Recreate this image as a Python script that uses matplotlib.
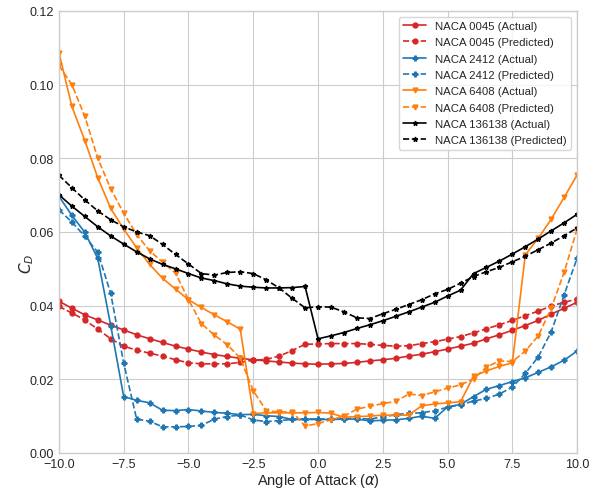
import numpy as np
import matplotlib
matplotlib.use("Agg")
import matplotlib.pyplot as plt

# Angle of attack grid (degrees)
alpha = np.arange(-10.0, 10.01, 0.5)

# NACA 0045
cd_0045_actual = [0.0412, 0.0393, 0.0375, 0.0361, 0.0347, 0.0334, 0.0321, 0.0310, 0.0300, 0.0290,
                  0.0282, 0.0274, 0.0267, 0.0262, 0.0257, 0.0253, 0.0250, 0.0247, 0.0244, 0.0242,
                  0.0241, 0.0242, 0.0243, 0.0246, 0.0250, 0.0253, 0.0257, 0.0263, 0.0268, 0.0275,
                  0.0282, 0.0290, 0.0298, 0.0310, 0.0321, 0.0333, 0.0346, 0.0360, 0.0377, 0.0393,
                  0.0409]
cd_0045_pred = [0.0398, 0.0380, 0.0361, 0.0336, 0.0310, 0.0290, 0.0279, 0.0271, 0.0263, 0.0253,
                0.0245, 0.0242, 0.0242, 0.0242, 0.0246, 0.0252, 0.0254, 0.0263, 0.0278, 0.0295,
                0.0296, 0.0297, 0.0297, 0.0297, 0.0295, 0.0292, 0.0290, 0.0291, 0.0297, 0.0302,
                0.0309, 0.0316, 0.0326, 0.0337, 0.0348, 0.0360, 0.0373, 0.0385, 0.0399, 0.0409,
                0.0418]

# NACA 2412
cd_2412_actual = [0.0697, 0.0645, 0.0599, 0.0528, 0.0346, 0.0153, 0.0143, 0.0136, 0.0116, 0.0115,
                  0.0118, 0.0114, 0.0110, 0.0108, 0.0104, 0.0105, 0.0101, 0.0099, 0.0091, 0.0091,
                  0.0091, 0.0091, 0.0092, 0.0092, 0.0087, 0.0089, 0.0090, 0.0094, 0.0100, 0.0094,
                  0.0125, 0.0132, 0.0153, 0.0173, 0.0183, 0.0194, 0.0204, 0.0219, 0.0234, 0.0252,
                  0.0277]
cd_2412_pred = [0.0660, 0.0627, 0.0588, 0.0545, 0.0433, 0.0244, 0.0092, 0.0086, 0.0071, 0.0071,
                0.0072, 0.0075, 0.0092, 0.0099, 0.0103, 0.0090, 0.0085, 0.0088, 0.0091, 0.0093,
                0.0092, 0.0093, 0.0093, 0.0094, 0.0092, 0.0098, 0.0104, 0.0108, 0.0109, 0.0115,
                0.0124, 0.0131, 0.0141, 0.0148, 0.0160, 0.0179, 0.0216, 0.0261, 0.0329, 0.0430,
                0.0529]

# NACA 6408
cd_6408_actual = [0.1087, 0.0941, 0.0848, 0.0747, 0.0664, 0.0608, 0.0557, 0.0512, 0.0474, 0.0445,
                  0.0416, 0.0395, 0.0375, 0.0356, 0.0336, 0.0107, 0.0109, 0.0109, 0.0109, 0.0109,
                  0.0110, 0.0108, 0.0097, 0.0099, 0.0100, 0.0103, 0.0102, 0.0103, 0.0128, 0.0133,
                  0.0136, 0.0139, 0.0208, 0.0223, 0.0235, 0.0245, 0.0538, 0.0583, 0.0635, 0.0694,
                  0.0755]
cd_6408_pred = [0.1052, 0.1000, 0.0914, 0.0800, 0.0717, 0.0651, 0.0593, 0.0549, 0.0518, 0.0488,
                0.0416, 0.0351, 0.0320, 0.0294, 0.0257, 0.0169, 0.0115, 0.0111, 0.0112, 0.0073,
                0.0080, 0.0090, 0.0100, 0.0119, 0.0127, 0.0134, 0.0140, 0.0160, 0.0156, 0.0166,
                0.0176, 0.0185, 0.0201, 0.0233, 0.0250, 0.0248, 0.0277, 0.0318, 0.0393, 0.0491,
                0.0608]

# NACA 136138
cd_136138_actual = [0.0701, 0.0670, 0.0642, 0.0614, 0.0589, 0.0567, 0.0546, 0.0527, 0.0512, 0.0500,
                    0.0487, 0.0475, 0.0468, 0.0459, 0.0453, 0.0450, 0.0448, 0.0448, 0.0449, 0.0452,
                    0.0310, 0.0318, 0.0327, 0.0338, 0.0348, 0.0359, 0.0371, 0.0383, 0.0396, 0.0409,
                    0.0426, 0.0442, 0.0487, 0.0504, 0.0521, 0.0540, 0.0560, 0.0581, 0.0603, 0.0625,
                    0.0648]
cd_136138_pred = [0.0754, 0.0720, 0.0687, 0.0657, 0.0633, 0.0614, 0.0600, 0.0590, 0.0566, 0.0539,
                  0.0513, 0.0487, 0.0483, 0.0490, 0.0492, 0.0487, 0.0470, 0.0448, 0.0420, 0.0394,
                  0.0397, 0.0396, 0.0383, 0.0367, 0.0365, 0.0378, 0.0390, 0.0403, 0.0416, 0.0432,
                  0.0444, 0.0461, 0.0479, 0.0492, 0.0504, 0.0519, 0.0534, 0.0552, 0.0570, 0.0590,
                  0.0611]

airfoils = ["NACA 0045", "NACA 2412", "NACA 6408", "NACA 136138"]
actual = [cd_0045_actual, cd_2412_actual, cd_6408_actual, cd_136138_actual]
predicted = [cd_0045_pred, cd_2412_pred, cd_6408_pred, cd_136138_pred]
colors = ["#d62728", "#1f77b4", "#ff7f0e", "black"]
markers = ["o", "P", "v", "*"]

plt.style.use("seaborn-v0_8-whitegrid")
plt.rcParams["font.family"] = ["Liberation Sans", "DejaVu Sans"]

fig = plt.figure(figsize=(5.95, 4.89), dpi=100)
ax = fig.add_axes([0.099, 0.0716, 0.871, 0.904])

for name, act, pred, c, m in zip(airfoils, actual, predicted, colors, markers):
    ax.plot(alpha, act, color=c, marker=m, markersize=3.5, linewidth=1.2,
            linestyle="-", label=f"{name} (Actual)")
    ax.plot(alpha, pred, color=c, marker=m, markersize=3.5, linewidth=1.2,
            linestyle="--", label=f"{name} (Predicted)")

ax.set_xlim(-10, 10)
ax.set_ylim(0, 0.12)
ax.set_xticks(np.arange(-10, 10.01, 2.5))
ax.set_yticks(np.arange(0, 0.121, 0.02))
ax.tick_params(labelsize=9)
ax.set_xlabel(r"Angle of Attack ($\alpha$)", fontsize=10.5)
ax.set_ylabel(r"$C_D$", fontsize=11)
ax.xaxis.set_label_coords(0.5, -0.04)
ax.yaxis.set_label_coords(-0.045, 0.43)
for s in ax.spines.values():
    s.set_visible(True)
    s.set_color("#cccccc")

ax.legend(loc="upper right", frameon=True, fontsize=8.2, handlelength=2.0,
          labelspacing=0.55)

fig.savefig("out.png", dpi=100)
